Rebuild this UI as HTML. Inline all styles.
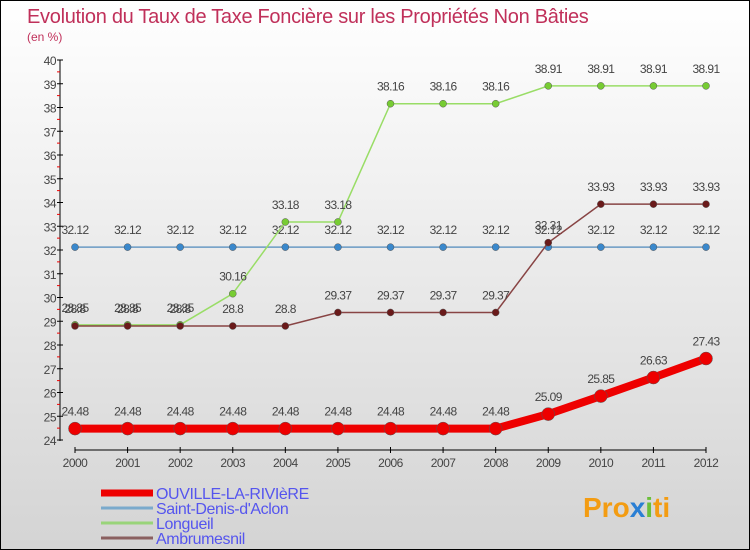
<!DOCTYPE html>
<html><head><meta charset="utf-8"><style>
body{margin:0}
#c{width:750px;height:550px;position:relative;box-sizing:border-box;border:1px solid #000;background:linear-gradient(#fff,#d4d4d4);font-family:"Liberation Sans",sans-serif;overflow:hidden}
</style></head><body>
<div id="c">
<svg id="s" width="748" height="548" style="position:absolute;left:0;top:0">
<text x="26" y="22" font-size="20" fill="#c0305a" letter-spacing="-0.3">Evolution du Taux de Taxe Foncière sur les Propriétés Non Bâties</text>
<text x="26" y="40" font-size="12" fill="#c0305a">(en %)</text>
<text x="582" y="516" font-size="28" font-weight="bold" fill="#f39c12">Pro<tspan fill="#2a7fd4">x</tspan><tspan fill="#6bbf3a">i</tspan>ti</text>
</svg>
</div>
<script>
const years=[2000,2001,2002,2003,2004,2005,2006,2007,2008,2009,2010,2011,2012];
const ouville=[24.48,24.48,24.48,24.48,24.48,24.48,24.48,24.48,24.48,25.09,25.85,26.63,27.43];
const stDenis=[32.12,32.12,32.12,32.12,32.12,32.12,32.12,32.12,32.12,32.12,32.12,32.12,32.12];
const longueil=[28.85,28.85,28.85,30.16,33.18,33.18,38.16,38.16,38.16,38.91,38.91,38.91,38.91];
const ambru=[28.8,28.8,28.8,28.8,28.8,29.37,29.37,29.37,29.37,32.31,33.93,33.93,33.93];
const yTicks=[24,25,26,27,28,29,30,31,32,33,34,35,36,37,38,39,40];
const seriesNames=["OUVILLE-LA-RIVIèRE","Saint-Denis-d'Aclon","Longueil","Ambrumesnil"];
const s=document.getElementById('s');const NS='http://www.w3.org/2000/svg';
function X(i){return 74+i*(705-74)/(years.length-1);}
function Y(v){return 439-(v-24)*(380/16);}
function el(t,a,txt){const e=document.createElementNS(NS,t);for(const k in a)e.setAttribute(k,a[k]);if(txt!==undefined)e.textContent=txt;s.appendChild(e);return e;}
let e=el('line',{x1:59,y1:59,x2:59,y2:440,stroke:'#000'});

e=el('line',{x1:74,y1:449,x2:705,y2:449,stroke:'#000'});

yTicks.forEach(v=>{el('line',{x1:56,y1:Y(v),x2:62,y2:Y(v),stroke:'#000'});
 if(v<40)el('line',{x1:56,y1:Y(v+0.5),x2:59,y2:Y(v+0.5),stroke:'#e00'});
 e=el('text',{x:55,y:Y(v)+5,'font-size':12,fill:'#444','text-anchor':'end','letter-spacing':-0.5},v);
 });
years.forEach((y,i)=>{el('line',{x1:X(i),y1:446,x2:X(i),y2:452,stroke:'#000'});
 e=el('text',{x:X(i),y:466,'font-size':12,fill:'#444','text-anchor':'middle','letter-spacing':-0.5},y);
 });
function series(d,col,w,r,name,dot){
 e=el('polyline',{points:d.map((v,i)=>X(i)+','+Y(v)).join(' '),fill:'none',stroke:col,'stroke-width':w});
 
 d.forEach((v,i)=>{e=el('circle',{cx:X(i),cy:Y(v),r:r,fill:dot,stroke:'#555','stroke-width':0.5});
  
  e=el('text',{x:X(i),y:Y(v)-13,'font-size':12,fill:'#444','text-anchor':'middle','letter-spacing':-0.6},v);
  });
}
series(stDenis,'#6a9ac4',1.5,3.5,'saint-denis','#3a88cc');
series(longueil,'#99dd66',1.5,3.5,'longueil','#77cc33');
series(ambru,'#884444',1.5,3.5,'ambrumesnil','#6a1a1a');
series(ouville,'#ee0000',8,6.5,'ouville','#ee0000');
const lc=['#ee0000','#7aaacc','#99d47a','#8a6060'],lw=[7,3,3,3];
seriesNames.forEach((n,i)=>{const y=492+i*15;
 e=el('line',{x1:100,y1:y,x2:152,y2:y,stroke:lc[i],'stroke-width':lw[i]});
 
 e=el('text',{x:155,y:y+6,'font-size':16,fill:'#5555ee','letter-spacing':-0.4},n);
 });
</script>
</body></html>
